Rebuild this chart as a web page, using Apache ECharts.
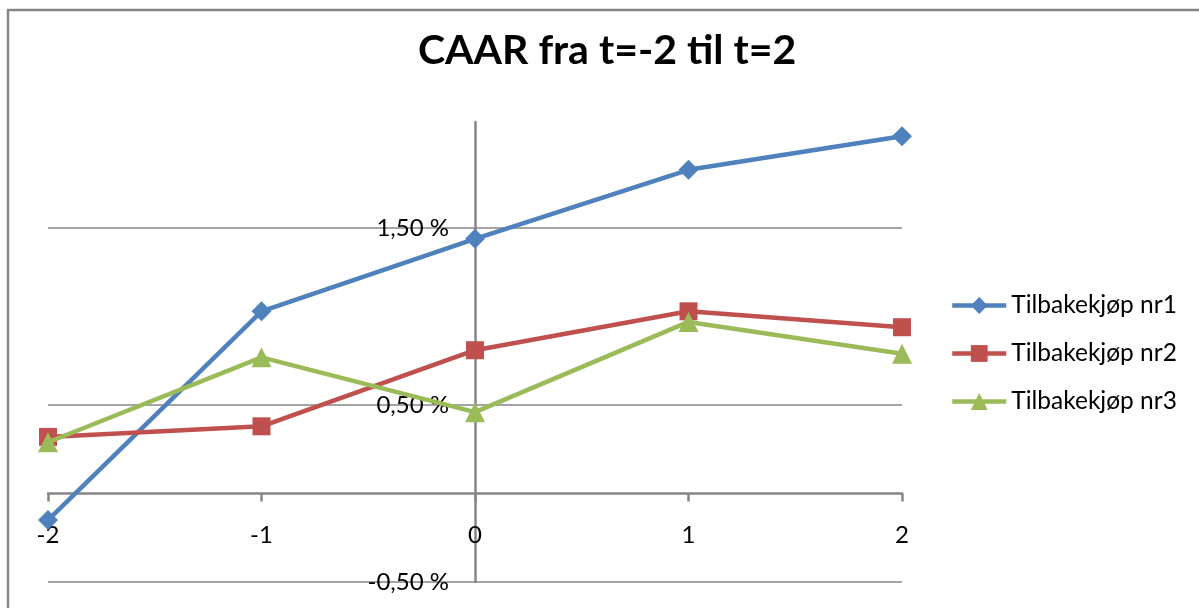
<!DOCTYPE html>
<html>
<head>
<meta charset="utf-8">
<script src="https://cdn.jsdelivr.net/npm/echarts@6/dist/echarts.min.js"></script>
<style>
html,body{margin:0;padding:0;background:#fff;}
#chart{width:1199px;height:608px;}
</style>
</head>
<body>
<div id="chart"></div>
<script>
var titleText = 'CAAR fra t=-2 til t=2';
var xValues = [-2, -1, 0, 1, 2];
var seriesNames = ['Tilbakekjøp nr1', 'Tilbakekjøp nr2', 'Tilbakekjøp nr3'];
var nr1 = [-0.15, 1.03, 1.44, 1.83, 2.02];
var nr2 = [0.32, 0.38, 0.81, 1.03, 0.94];
var nr3 = [0.29, 0.77, 0.46, 0.97, 0.79];
var yMin = -0.5, yMax = 2.1, yInterval = 1;
var xMin = -2, xMax = 2, xInterval = 1;

var FONT = 'Lato, "Open Sans", sans-serif';
function pairs(vals){ return xValues.map(function(x,i){ return [x, vals[i]]; }); }

var W = 1199, H = 608;
var G = {left: 48, right: 297, top: 122, bottom: 26};
var plotW = W - G.left - G.right, plotH = H - G.top - G.bottom;
// axes cross at zero: shift each axis from the grid edge to the zero position
var yAxisOffset = -((0 - xMin) / (xMax - xMin)) * plotW;
var xAxisOffset = -((0 - yMin) / (yMax - yMin)) * plotH;

var chart = echarts.init(document.getElementById('chart'));
var colors = ['#4F81BD', '#C0504D', '#9BBB59'];
var symbols = ['diamond', 'rect', 'triangle'];
var sizes = [20, 18, 20];
var all = [nr1, nr2, nr3];

chart.setOption({
  animation: false,
  backgroundColor: '#fff',
  color: colors,
  title: {
    text: titleText,
    left: 418,
    top: 30,
    padding: 0,
    textStyle: {fontFamily: FONT, fontWeight: 'bold', fontSize: 41, color: '#000'}
  },
  graphic: [{
    type: 'rect', z: -10, silent: true,
    shape: {x: 8, y: 10, width: 1260, height: 700},
    style: {fill: 'none', stroke: '#868686', lineWidth: 2.5}
  }],
  legend: {
    orient: 'vertical',
    left: 950,
    top: 293,
    padding: 0,
    itemWidth: 54,
    itemHeight: 21,
    itemGap: 23,
    lineStyle: {width: 4.5},
    textStyle: {fontFamily: FONT, fontSize: 24.5, color: '#000'},
    data: seriesNames
  },
  grid: {left: G.left, right: G.right, top: G.top, bottom: G.bottom, containLabel: false, outerBoundsMode: 'none'},
  xAxis: {
    type: 'value', min: xMin, max: xMax, interval: xInterval,
    position: 'bottom', offset: xAxisOffset,
    axisLine: {onZero: false, lineStyle: {color: '#868686', width: 2.5}},
    axisTick: {show: true, inside: false, length: 8, lineStyle: {color: '#868686', width: 2.5}},
    splitLine: {show: false},
    axisLabel: {margin: 30, fontFamily: FONT, fontSize: 24, color: '#000'}
  },
  yAxis: {
    type: 'value', min: yMin, max: yMax, interval: yInterval,
    position: 'left', offset: yAxisOffset,
    axisLine: {show: true, onZero: false, lineStyle: {color: '#868686', width: 2.5}},
    axisTick: {show: false},
    splitLine: {show: true, showMaxLine: false, lineStyle: {color: '#868686', width: 1.5}},
    axisLabel: {
      margin: 26, fontFamily: FONT, fontSize: 24, color: '#000',
      showMaxLabel: false,
      formatter: function(v){ return v.toFixed(2).replace('.', ',') + ' %'; }
    }
  },
  series: all.map(function(vals, i){
    return {
      name: seriesNames[i],
      type: 'line',
      data: pairs(vals),
      symbol: symbols[i],
      symbolSize: sizes[i],
      showAllSymbol: true,
      lineStyle: {width: 4.5, color: colors[i]},
      itemStyle: {color: colors[i]},
      z: 3 + i
    };
  })
});
</script>
</body>
</html>
